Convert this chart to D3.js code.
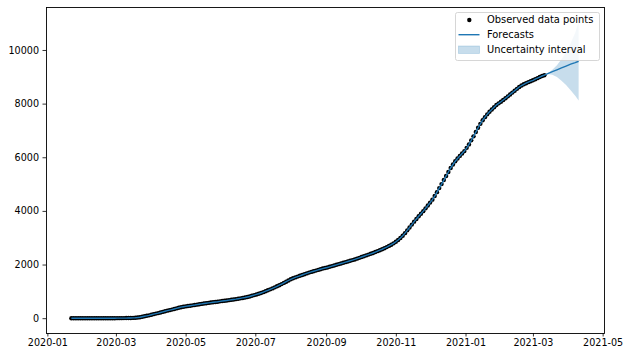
<!DOCTYPE html>
<html lang="en">
<head>
  <meta charset="utf-8" />
  <title>Forecast</title>
  <script src="https://cdn.jsdelivr.net/npm/d3@7"></script>
  <style>
    body { margin: 0; background: #fff; }
    svg text { font-family: "DejaVu Sans", sans-serif; font-size: 9.4px; fill: #000; }
  </style>
</head>
<body>
<div id="chart"></div>
<script>
// observed values, one every 2 days starting 2020-01-22
var obsStart = "2020-01-22";
var obsStepDays = 2;
var observed = [
  0, 0, 0, 0, 0, 0, 0, 0, 0, 0, 0, 0, 0, 0, 0, 0, 0, 0, 0, 0,
  1, 1, 2, 3, 4, 6, 8, 11, 15, 24, 35, 52, 70, 88, 105, 128, 150, 170, 190, 212,
  235, 258, 280, 300, 320, 342, 365, 388, 410, 426, 440, 452, 465, 478, 490, 505, 520, 532, 545, 558,
  570, 582, 595, 605, 615, 628, 640, 650, 660, 672, 685, 698, 710, 725, 740, 755, 770, 790, 810, 835,
  860, 885, 910, 940, 970, 1005, 1040, 1075, 1110, 1150, 1190, 1230, 1270, 1315, 1360, 1405, 1450, 1487, 1520, 1550,
  1580, 1610, 1640, 1670, 1700, 1725, 1750, 1775, 1800, 1825, 1850, 1870, 1890, 1915, 1940, 1965, 1990, 2015, 2040, 2065,
  2090, 2115, 2140, 2165, 2190, 2220, 2250, 2280, 2310, 2340, 2370, 2400, 2430, 2465, 2500, 2535, 2570, 2610, 2650, 2695,
  2740, 2790, 2850, 2915, 2990, 3075, 3170, 3275, 3380, 3490, 3600, 3700, 3800, 3895, 3990, 4095, 4200, 4310, 4420, 4555,
  4700, 4850, 5000, 5150, 5300, 5450, 5600, 5730, 5850, 5955, 6050, 6140, 6230, 6350, 6480, 6630, 6780, 6940, 7100, 7245,
  7380, 7495, 7600, 7695, 7780, 7865, 7950, 8010, 8070, 8135, 8200, 8270, 8340, 8410, 8480, 8550, 8620, 8675, 8720, 8760,
  8800, 8835, 8870, 8910, 8950, 8990, 9030, 9060
];

// future part of the forecast
var futureDates = ["2021-03-10", "2021-03-14", "2021-03-18", "2021-03-22", "2021-03-26",
                   "2021-03-30", "2021-04-03", "2021-04-07", "2021-04-10"];
var yhat  = [9060, 9120, 9190, 9260, 9330, 9400, 9470, 9530, 9580];
var upper = [9070, 9130, 9260, 9430, 9650, 9920, 10250, 10640, 11050];
var lower = [9050, 9100, 9080, 8990, 8850, 8690, 8500, 8290, 8120];

var xTicks = ["2020-01", "2020-03", "2020-05", "2020-07", "2020-09", "2020-11", "2021-01", "2021-03", "2021-05"];
var yTicks = [0, 2000, 4000, 6000, 8000, 10000];
var legendLabels = ["Observed data points", "Forecasts", "Uncertainty interval"];

var W = 630, H = 357;
var margin = {top: 7, right: 26, bottom: 24, left: 46};
var w = W - margin.left - margin.right,
    h = H - margin.top - margin.bottom;
var blue = "#1f77b4";

var parse = d3.utcParse("%Y-%m-%d");
var parseMonth = d3.utcParse("%Y-%m");
var t0 = parse(obsStart);
var obs = observed.map(function(v, i) {
  return {date: d3.utcDay.offset(t0, i * obsStepDays), value: v};
});
var fut = futureDates.map(function(d, i) {
  return {date: parse(d), yhat: yhat[i], upper: upper[i], lower: lower[i]};
});
var fcLine = obs.map(function(d) { return {date: d.date, value: d.value}; })
  .concat(fut.slice(1).map(function(d) { return {date: d.date, value: d.yhat}; }));

// matplotlib style 5% padding
var xMin = +obs[0].date, xMax = +fut[fut.length - 1].date;
var xPad = (xMax - xMin) * 0.05;
var yMin = d3.min(observed), yMax = d3.max(upper);
var yPad = (yMax - yMin) * 0.05;

var x = d3.scaleUtc().domain([new Date(xMin - xPad), new Date(xMax + xPad)]).range([0, w]);
var y = d3.scaleLinear().domain([yMin - yPad, yMax + yPad]).range([h, 0]);

var svg = d3.select("#chart").append("svg")
  .attr("width", W).attr("height", H);
var g = svg.append("g").attr("transform", "translate(" + margin.left + "," + margin.top + ")");

g.append("clipPath").attr("id", "clip")
  .append("rect").attr("width", w).attr("height", h);
var plot = g.append("g").attr("clip-path", "url(#clip)");

plot.append("path")
  .datum(fut)
  .attr("fill", blue)
  .attr("fill-opacity", 0.25)
  .attr("d", d3.area()
    .x(function(d) { return x(d.date); })
    .y0(function(d) { return y(d.lower); })
    .y1(function(d) { return y(d.upper); }));

plot.selectAll("circle.obs")
  .data(obs)
  .enter().append("circle")
  .attr("class", "obs")
  .attr("cx", function(d) { return x(d.date); })
  .attr("cy", function(d) { return y(d.value); })
  .attr("r", 2.2)
  .attr("fill", "#000");

plot.append("path")
  .datum(fcLine)
  .attr("fill", "none")
  .attr("stroke", blue)
  .attr("stroke-width", 1.4)
  .attr("d", d3.line()
    .x(function(d) { return x(d.date); })
    .y(function(d) { return y(d.value); }));

// axes
var xAxis = d3.axisBottom(x)
  .tickValues(xTicks.map(function(s) { return parseMonth(s); }))
  .tickFormat(d3.utcFormat("%Y-%m"))
  .tickSize(3.5).tickPadding(3);
var gx = g.append("g").attr("transform", "translate(0," + h + ")").call(xAxis);

var yAxis = d3.axisLeft(y).tickValues(yTicks).tickFormat(d3.format("d"))
  .tickSize(3.5).tickPadding(3.5);
var gy = g.append("g").call(yAxis);

[gx, gy].forEach(function(a) {
  a.select(".domain").remove();
  a.selectAll("text").style("font-size", "9.6px").style("font-family", "'DejaVu Sans', sans-serif");
  a.selectAll(".tick line").attr("stroke", "#000").attr("stroke-width", 0.8);
});

g.append("rect")
  .attr("x", 0.5).attr("y", 0.5)
  .attr("width", w).attr("height", h)
  .attr("fill", "none")
  .attr("stroke", "#000")
  .attr("stroke-width", 0.9);

// legend
var lg = svg.append("g").attr("transform", "translate(455,12)");
lg.append("rect")
  .attr("x", 0.5).attr("y", 0.5)
  .attr("width", 144).attr("height", 48)
  .attr("rx", 2)
  .attr("fill", "#fff").attr("fill-opacity", 0.8)
  .attr("stroke", "#cccccc").attr("stroke-width", 0.8);

legendLabels.forEach(function(label, i) {
  lg.append("text").attr("x", 32).attr("y", 8 + i * 14.7).attr("dy", "0.35em")
    .style("font-size", "9.9px").text(label);
});
lg.append("circle").attr("cx", 14.3).attr("cy", 8).attr("r", 2.2).attr("fill", "#000");
lg.append("line").attr("x1", 3.5).attr("x2", 24.5).attr("y1", 22.7).attr("y2", 22.7)
  .attr("stroke", blue).attr("stroke-width", 1.4);
lg.append("rect").attr("x", 3.5).attr("y", 34).attr("width", 21).attr("height", 7.4)
  .attr("fill", blue).attr("fill-opacity", 0.25)
  .attr("stroke", blue).attr("stroke-opacity", 0.25).attr("stroke-width", 0.8);
</script>
</body>
</html>
